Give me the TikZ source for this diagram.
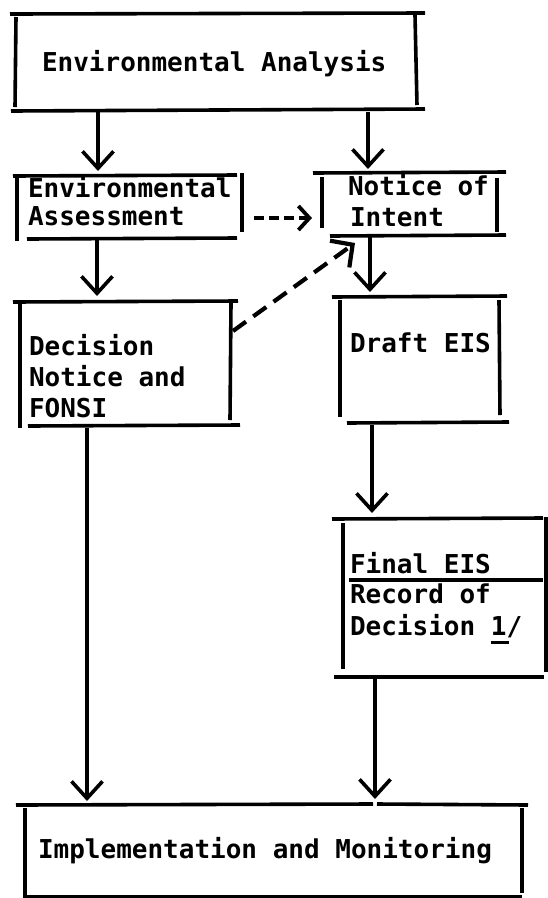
\documentclass[tikz,border=0pt]{standalone}
\usepackage{fontspec}
\setmonofont{DejaVu Sans Mono}
\usetikzlibrary{arrows.meta}
\begin{document}
\begin{tikzpicture}[x=1pt,y=-1pt,
  txt/.style={anchor=base west, inner sep=0pt, outer sep=0pt, font=\ttfamily\bfseries\fontsize{26}{31}\selectfont},
  bx/.style={draw=none, inner sep=0pt, outer sep=0pt, anchor=north west},
  outl/.style={line width=3.6pt},
  arr/.style={line width=3.6pt, -{Straight Barb[length=17pt,width=31pt]}},
  dsh/.style={line width=3.8pt, dash pattern=on 10pt off 5pt, -{Straight Barb[length=11pt,width=24pt]}},
  dshb/.style={line width=4.2pt, dash pattern=on 16pt off 9pt, -{Straight Barb[length=16pt,width=33pt]}}
]
\fill[white] (0,0) rectangle (548,898);
\useasboundingbox (0,0) rectangle (548,898);

% box placeholders
\node[bx, minimum width=401pt, minimum height=96pt] (ea) at (16,14) {};
\node[bx, minimum width=225pt, minimum height=63pt] (enva) at (17,175) {};
\node[bx, minimum width=175pt, minimum height=62pt] (noi) at (322,173) {};
\node[bx, minimum width=211pt, minimum height=124pt] (dec) at (20,302) {};
\node[bx, minimum width=159pt, minimum height=126pt] (draft) at (340,297) {};
\node[bx, minimum width=203pt, minimum height=158pt] (final) at (343,519) {};
\node[bx, minimum width=497pt, minimum height=92pt] (impl) at (25,805) {};

% outlines
\draw[outl] (10,14) -- (425,13);  \draw[outl] (16,17) -- (15,107);
\draw[outl] (415,15) -- (417,105); \draw[outl] (11,111) -- (425,109);

\draw[outl] (13,176) -- (237,175); \draw[outl] (17,178) -- (17,241);
\draw[outl] (242,173) -- (242,232); \draw[outl] (27,239) -- (237,238);

\draw[outl] (313,173) -- (506,172); \draw[outl] (322,177) -- (322,228);
\draw[outl] (497,178) -- (497,232); \draw[outl] (330,236) -- (506,235);

\draw[outl] (13,302) -- (238,301); \draw[outl] (20,304) -- (20,428);
\draw[outl] (231,303) -- (230,420); \draw[outl] (28,426) -- (240,425);

\draw[outl] (332,297) -- (507,296); \draw[outl] (340,300) -- (340,417);
\draw[outl] (499,300) -- (500,415); \draw[outl] (347,423) -- (509,422);

\draw[outl] (332,519) -- (543,518); \draw[outl] (343,523) -- (343,669);
\draw[outl] (546,517) -- (546,672); \draw[outl] (349,580) -- (543,580);
\draw[outl] (334,677) -- (544,677);

\draw[outl] (16,805) -- (373,804); \draw[outl] (377,804) -- (528,805);
\draw[outl] (25,808) -- (25,898); \draw[outl] (522,808) -- (522,893);
\draw[outl] (25,897) -- (522,897);

% texts
\node[txt] (ea-t) at (42,71) {Environmental Analysis};
\node[txt] (enva-t1) at (28,197) {Environmental};
\node[txt] (enva-t2) at (28,225) {Assessment};
\node[txt] (noi-t1) at (348,195) {Notice of};
\node[txt] (noi-t2) at (350,226) {Intent};
\node[txt] (dec-t1) at (29,355) {Decision};
\node[txt] (dec-t2) at (29,386) {Notice and};
\node[txt] (dec-t3) at (29,417) {FONSI};
\node[txt] (draft-t) at (350,352) {Draft EIS};
\node[txt] (final-t1) at (350,573) {Final EIS};
\node[txt] (final-t2) at (350,603) {Record of};
\node[txt] (final-t3) at (350,635) {Decision \makebox[0pt][l]{\rule[-9pt]{18pt}{2.8pt}}1/};
\node[txt] (impl-t) at (38,858) {Implementation and Monitoring};

% connectors
\draw[arr] ([shift={(82,2)}]ea.south west) -- ([shift={(81,-4)}]enva.north west);
\draw[arr] ([shift={(352,2)}]ea.south west) -- ([shift={(46,-4)}]noi.north west);
\draw[arr] ([shift={(80,2)}]enva.south west) -- ([shift={(77,-6)}]dec.north west);
\draw[arr] ([shift={(48,2)}]noi.south west) -- ([shift={(30,-5)}]draft.north west);
\draw[arr] ([shift={(32,2)}]draft.south west) -- ([shift={(29,-6)}]final.north west);
\draw[arr] ([shift={(67,2)}]dec.south west) -- ([shift={(62,-4)}]impl.north west);
\draw[arr] ([shift={(32,2)}]final.south west) -- ([shift={(350,-6)}]impl.north west);
\draw[dsh] ([shift={(12,-20)}]enva.south east) -- ([shift={(-10,-17)}]noi.south west);
\draw[dshb] ([shift={(2,29)}]dec.north east) -- ([shift={(33,8)}]noi.south west);
\end{tikzpicture}
\end{document}
